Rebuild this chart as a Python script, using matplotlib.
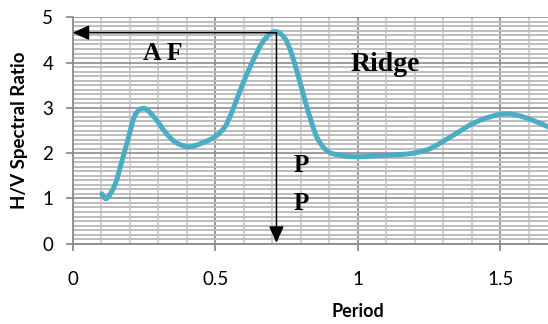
import matplotlib
matplotlib.use("Agg")
import matplotlib.pyplot as plt
from matplotlib.ticker import MultipleLocator
from matplotlib.path import Path
from matplotlib.patches import PathPatch

# H/V spectral ratio curve (period in s, ratio)
period = [0.102, 0.119, 0.148, 0.172, 0.195, 0.219, 0.251, 0.289, 0.324, 0.359,
          0.406, 0.453, 0.499, 0.534, 0.558, 0.593, 0.628, 0.663, 0.692, 0.716,
          0.745, 0.768, 0.792, 0.815, 0.839, 0.862, 0.897, 0.944, 0.996, 1.055,
          1.172, 1.242, 1.289, 1.347, 1.406, 1.464, 1.523, 1.581, 1.640, 1.668]
hv_ratio = [1.10, 1.00, 1.30, 1.81, 2.33, 2.84, 2.99, 2.77, 2.47, 2.25,
            2.14, 2.22, 2.36, 2.58, 2.90, 3.47, 3.98, 4.42, 4.63, 4.68,
            4.53, 4.20, 3.69, 3.17, 2.66, 2.29, 2.03, 1.95, 1.92, 1.94,
            1.98, 2.07, 2.22, 2.44, 2.66, 2.80, 2.87, 2.80, 2.66, 2.58]

# Peak read-outs: amplification factor and predominant period
peak_period = 0.715
peak_ratio = 4.66

x_ticks = [0, 0.5, 1, 1.5]
x_tick_labels = ["0", "0.5", "1", "1.5"]
y_ticks = [0, 1, 2, 3, 4, 5]


def smooth_path(xs, ys):
    """Smoothed line through the points (Catmull-Rom segments as cubic Beziers)."""
    pts = list(zip(xs, ys))
    n = len(pts)
    verts = [pts[0]]
    codes = [Path.MOVETO]
    for i in range(n - 1):
        p0 = pts[i - 1] if i > 0 else pts[i]
        p1 = pts[i]
        p2 = pts[i + 1]
        p3 = pts[i + 2] if i + 2 < n else pts[i + 1]
        c1 = (p1[0] + (p2[0] - p0[0]) / 6, p1[1] + (p2[1] - p0[1]) / 6)
        c2 = (p2[0] - (p3[0] - p1[0]) / 6, p2[1] - (p3[1] - p1[1]) / 6)
        verts += [c1, c2, p2]
        codes += [Path.CURVE4] * 3
    return Path(verts, codes)


fig = plt.figure(figsize=(5.48, 3.24), dpi=100)
ax = fig.add_axes([0.1327, 0.2478, 0.8673, 0.6988])

ax.set_xlim(0, 1.668)
ax.set_ylim(0, 5)

# Excel-style grid
ax.xaxis.set_major_locator(MultipleLocator(0.5))
ax.xaxis.set_minor_locator(MultipleLocator(0.1))
ax.yaxis.set_major_locator(MultipleLocator(1))
ax.yaxis.set_minor_locator(MultipleLocator(0.1))
ax.grid(which="minor", axis="y", color="#bdbdbd", linewidth=1.4)
ax.grid(which="minor", axis="x", color="#c4c4c4", linewidth=1.1)
ax.grid(which="major", color="#8c8c8c", linewidth=1.2)
ax.set_axisbelow(True)

for side in ("top", "right"):
    ax.spines[side].set_visible(False)
for side in ("left", "bottom"):
    ax.spines[side].set_color("#8c8c8c")
    ax.spines[side].set_linewidth(1.3)

tick_font = dict(family="Lato", size=13.5)
ax.set_xticks(x_ticks)
ax.set_xticklabels(x_tick_labels, fontdict=tick_font)
ax.set_yticks(y_ticks)
ax.set_yticklabels([str(v) for v in y_ticks], fontdict=tick_font)
ax.tick_params(which="major", direction="out", length=5, width=1.3, color="#8c8c8c")
ax.tick_params(axis="x", which="major", pad=15)
ax.tick_params(axis="y", which="major", pad=9)
ax.tick_params(which="minor", length=0)

ax.set_xlabel("Period", family="Lato", weight="bold", size=13)
ax.xaxis.set_label_coords(1.0 / 1.668, -0.26)
ax.set_ylabel("H/V Spectral Ratio", family="Lato", weight="bold", size=13.5)
ax.yaxis.set_label_coords(-0.094, 0.5)

curve = PathPatch(smooth_path(period, hv_ratio), facecolor="none", edgecolor="#4bacc6",
                  linewidth=3.6, capstyle="round", joinstyle="round", zorder=3)
ax.add_patch(curve)

arrow = dict(arrowstyle="-|>,head_length=1.0,head_width=0.45", color="black",
             linewidth=1.1, mutation_scale=10, shrinkA=0, shrinkB=0)
ax.annotate("", xy=(0.0, peak_ratio), xytext=(peak_period, peak_ratio),
            arrowprops=arrow, annotation_clip=False, zorder=4)
ax.annotate("", xy=(peak_period, 0.02), xytext=(peak_period, peak_ratio),
            arrowprops=arrow, annotation_clip=False, zorder=4)

label_font = dict(family="Liberation Serif", weight="bold", color="black")
ax.text(0.317, 4.06, "A F", ha="center", va="baseline", size=18.5, **label_font)
ax.text(1.096, 3.81, "Ridge", ha="center", va="baseline", size=20, **label_font)
ax.text(0.801, 1.58, "P", ha="center", va="baseline", size=18, **label_font)
ax.text(0.801, 0.74, "P", ha="center", va="baseline", size=18, **label_font)

fig.savefig("out.png", dpi=100)
